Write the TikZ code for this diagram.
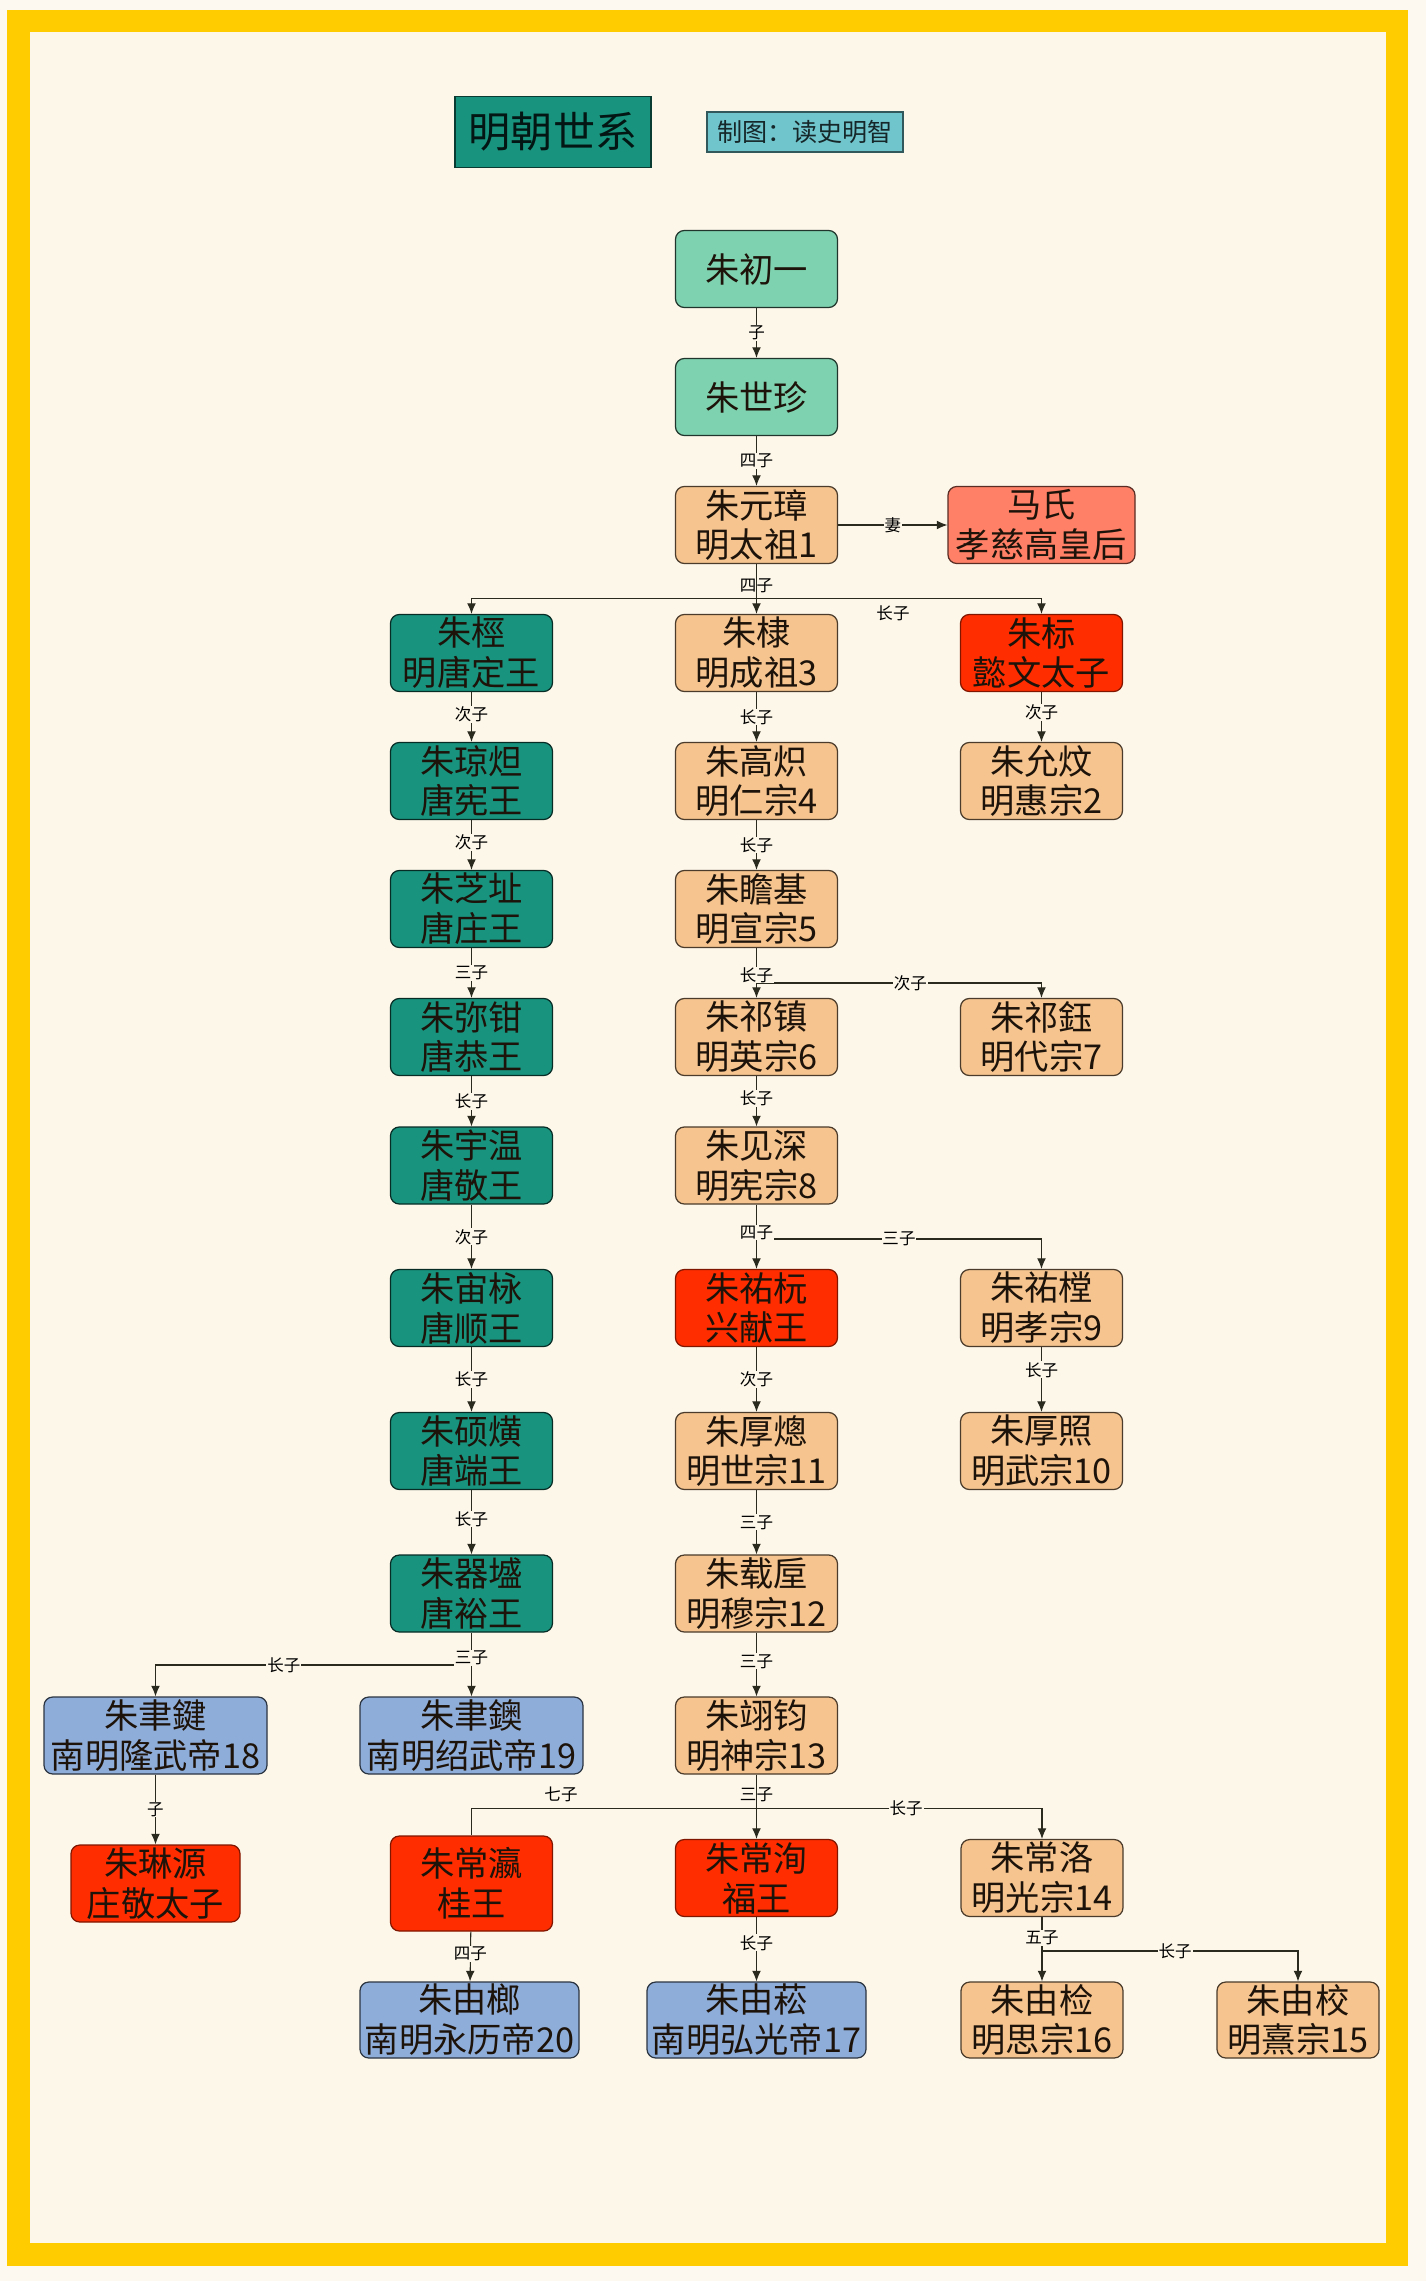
\documentclass[tikz,border=0pt]{standalone}
\usepackage{fontspec}
\setmainfont{Noto Sans CJK SC}
\usetikzlibrary{arrows.meta}
\definecolor{framey}{HTML}{FFCC00}
\definecolor{paper}{HTML}{FDF7E9}
\definecolor{tang}{HTML}{18947E}
\definecolor{elder}{HTML}{7FD2AF}
\definecolor{emperor}{HTML}{F5C48F}
\definecolor{consort}{HTML}{FF8066}
\definecolor{prince}{HTML}{FF2D00}
\definecolor{southern}{HTML}{8FADD9}
\definecolor{credit}{HTML}{70C4CC}
\definecolor{ink}{HTML}{2A2A1E}
\tikzset{
	person/.style={line width=0.7pt, rounded corners=5pt, inner sep=0pt, align=center, font=\fontsize{19.5}{22.7}\selectfont, text=black!85!brown, minimum width=162*0.02cm, minimum height=77*0.02cm},
	tangbox/.style={person, fill=tang, draw=tang!30!black},
	elderbox/.style={person, fill=elder, draw=elder!25!black},
	emperorbox/.style={person, fill=emperor, draw=emperor!30!black},
	consortbox/.style={person, fill=consort, draw=consort!35!black},
	princebox/.style={person, fill=prince, draw=prince!50!black},
	southbox/.style={person, fill=southern, draw=southern!30!black},
	relation/.style={fill=paper, inner sep=0.5pt, font=\fontsize{9.4}{11}\selectfont},
	link/.style={draw=ink, line width=0.6pt},
	linkto/.style={link, -{Latex[length=6pt,width=5pt]}},
}
\begin{document}
\begin{tikzpicture}[x=0.02cm,y=-0.02cm]
	\useasboundingbox (0,0) rectangle (1426,2281);
	\fill [paper!70!white] (0,0) rectangle (1426,2281);
	\fill [framey] (7,10) rectangle (1408,2266);
	\fill [paper] (30,32) rectangle (1386,2243);

	\node [draw=tang!40!black, fill=tang, line width=0.7pt, minimum width=196*0.02cm, minimum height=71*0.02cm, inner sep=0pt, font=\fontsize{24}{26}\selectfont, text=black!85!tang] (title) at (553,132) {明朝世系};
	\node [draw=credit!45!black, fill=credit, line width=0.6pt, minimum width=196*0.02cm, minimum height=40*0.02cm, inner sep=0pt, font=\fontsize{14.3}{17}\selectfont, text=black!80!credit] (maker) at (805,132) {制图：读史明智};

	\node [elderbox] (chuyi) at (756.5,269) {朱初一};
	\node [elderbox] (shizhen) at (756.5,397) {朱世珍};
	\node [emperorbox] (yuanzhang) at (756.5,525) {朱元璋\\明太祖1};
	\node [consortbox, minimum width=187*0.02cm] (mashi) at (1041.5,525) {马氏\\孝慈高皇后};

	\node [tangbox] (cheng) at (471.5,653) {朱桱\\明唐定王};
	\node [tangbox] (qiongda) at (471.5,781) {朱琼炟\\唐宪王};
	\node [tangbox] (zhizhi) at (471.5,909) {朱芝址\\唐庄王};
	\node [tangbox] (miqian) at (471.5,1037) {朱弥钳\\唐恭王};
	\node [tangbox] (yuwen) at (471.5,1165.5) {朱宇温\\唐敬王};
	\node [tangbox] (zhouqiu) at (471.5,1308) {朱宙栐\\唐顺王};
	\node [tangbox] (shuohuang) at (471.5,1451) {朱硕熿\\唐端王};
	\node [tangbox] (qiqiang) at (471.5,1593.5) {朱器墭\\唐裕王};

	\node [emperorbox] (di) at (756.5,653) {朱棣\\明成祖3};
	\node [emperorbox] (gaochi) at (756.5,781) {朱高炽\\明仁宗4};
	\node [emperorbox] (zhanji) at (756.5,909) {朱瞻基\\明宣宗5};
	\node [emperorbox] (qizhen) at (756.5,1037) {朱祁镇\\明英宗6};
	\node [emperorbox] (jianshen) at (756.5,1165.5) {朱见深\\明宪宗8};
	\node [princebox] (youyuan) at (756.5,1308) {朱祐杬\\兴献王};
	\node [emperorbox] (houcong) at (756.5,1451) {朱厚熜\\明世宗11};
	\node [emperorbox] (zaihou) at (756.5,1593.5) {朱载垕\\明穆宗12};
	\node [emperorbox] (yijun) at (756.5,1735.5) {朱翊钧\\明神宗13};

	\node [princebox] (biao) at (1041.5,653) {朱标\\懿文太子};
	\node [emperorbox] (yunwen) at (1041.5,781) {朱允炆\\明惠宗2};
	\node [emperorbox] (qiyu) at (1041.5,1037) {朱祁鈺\\明代宗7};
	\node [emperorbox] (youtang) at (1041.5,1308) {朱祐樘\\明孝宗9};
	\node [emperorbox] (houzhao) at (1041.5,1451) {朱厚照\\明武宗10};

	\node [southbox, minimum width=223*0.02cm] (yujian) at (155.5,1735.5) {朱聿鍵\\南明隆武帝18};
	\node [southbox, minimum width=223*0.02cm] (yuyue) at (471.5,1735.5) {朱聿鐭\\南明绍武帝19};
	\node [princebox, minimum width=169*0.02cm] (linyuan) at (155.5,1883.5) {朱琳源\\庄敬太子};

	\node [princebox, minimum height=95*0.02cm] (changying) at (471.5,1883.5) {朱常瀛\\桂王};
	\node [princebox] (changxun) at (756.5,1878) {朱常洵\\福王};
	\node [emperorbox] (changluo) at (1042,1878) {朱常洛\\明光宗14};

	\node [southbox, minimum width=219*0.02cm, minimum height=76*0.02cm] (youlang) at (469.5,2020) {朱由榔\\南明永历帝20};
	\node [southbox, minimum width=219*0.02cm, minimum height=76*0.02cm] (yousong) at (756.5,2020) {朱由菘\\南明弘光帝17};
	\node [emperorbox, minimum height=76*0.02cm] (youjian) at (1042,2020) {朱由检\\明思宗16};
	\node [emperorbox, minimum height=76*0.02cm] (youxiao) at (1298,2020) {朱由校\\明熹宗15};

	\coordinate (forkhong) at (756.5,598.5);
	\coordinate (forkzhan) at (756.5,983);
	\coordinate (forkjian) at (756.5,1239);
	\coordinate (forkqi) at (471.5,1665);
	\coordinate (forkyi) at (756.5,1808.5);
	\coordinate (forkluo) at (1042,1951);

	\draw [linkto] (chuyi) -- node [relation] {子} (shizhen);
	\draw [linkto] (shizhen) -- node [relation] {四子} (yuanzhang);
	\draw [linkto] (yuanzhang) -- node [relation] {妻} (mashi);

	\draw [link] (yuanzhang) -- (forkhong);
	\draw [linkto] (forkhong) -| (cheng);
	\draw [linkto] (forkhong) -- (di);
	\draw [linkto] (forkhong) -| (biao);
	\node [relation, fill=none] (sizia) at (756.5,585.5) {四子};
	\node [relation, fill=none] (zhangzia) at (893,613) {长子};

	\draw [linkto] (cheng) -- node [relation, pos=0.45] {次子} (qiongda);
	\draw [linkto] (qiongda) -- node [relation, pos=0.45] {次子} (zhizhi);
	\draw [linkto] (zhizhi) -- node [relation, pos=0.5] {三子} (miqian);
	\draw [linkto] (miqian) -- node [relation, pos=0.5] {长子} (yuwen);
	\draw [linkto] (yuwen) -- node [relation, pos=0.5] {次子} (zhouqiu);
	\draw [linkto] (zhouqiu) -- node [relation, pos=0.5] {长子} (shuohuang);
	\draw [linkto] (shuohuang) -- node [relation, pos=0.45] {长子} (qiqiang);

	\draw [linkto] (di) -- node [relation, pos=0.5] {长子} (gaochi);
	\draw [linkto] (gaochi) -- node [relation, pos=0.5] {长子} (zhanji);
	\draw [linkto] (qizhen) -- node [relation, pos=0.45] {长子} (jianshen);
	\draw [linkto] (biao) -- node [relation, pos=0.4] {次子} (yunwen);

	\draw [link] (zhanji) -- (forkzhan);
	\draw [linkto] (forkzhan) -- (qizhen);
	\draw [linkto] (forkzhan) -| node [relation, pos=0.27] {次子} (qiyu);
	\node [relation] (zhangzib) at (756.5,975) {长子};

	\draw [link] (jianshen) -- (forkjian);
	\draw [linkto] (forkjian) -- (youyuan);
	\draw [linkto] (forkjian) -| node [relation, pos=0.25] {三子} (youtang);
	\node [relation] (sizib) at (756.5,1232.5) {四子};

	\draw [linkto] (youyuan) -- node [relation, pos=0.5] {次子} (houcong);
	\draw [linkto] (youtang) -- node [relation, pos=0.35] {长子} (houzhao);
	\draw [linkto] (houcong) -- node [relation, pos=0.5] {三子} (zaihou);
	\draw [linkto] (zaihou) -- node [relation, pos=0.45] {三子} (yijun);

	\draw [link] (qiqiang) -- (forkqi);
	\draw [linkto] (forkqi) -- (yuyue);
	\draw [linkto] (forkqi) -| node [relation, pos=0.297] {长子} (yujian);
	\node [relation] (sanzia) at (471.5,1658) {三子};
	\draw [linkto] (yujian) -- node [relation, pos=0.5] {子} (linyuan);

	\draw [link] (yijun) -- (forkyi);
	\draw [linkto] (forkyi) -- (changxun);
	\draw [link] (forkyi) -| (changying);
	\draw [linkto] (forkyi) -| node [relation, pos=0.262] {长子} (changluo);
	\node [relation, fill=none] (sanzib) at (756.5,1795) {三子};
	\node [relation, fill=none] (qizi) at (561,1794) {七子};

	\draw [linkto] (changying) -- node [relation, pos=0.45] {四子} (youlang);
	\draw [linkto] (changxun) -- node [relation, pos=0.4] {长子} (yousong);

	\draw [link] (changluo) -- (forkluo);
	\draw [linkto] (forkluo) -- (youjian);
	\draw [linkto] (forkluo) -| node [relation, pos=0.26] {长子} (youxiao);
	\node [relation] (wuzi) at (1042,1938) {五子};
\end{tikzpicture}
\end{document}
